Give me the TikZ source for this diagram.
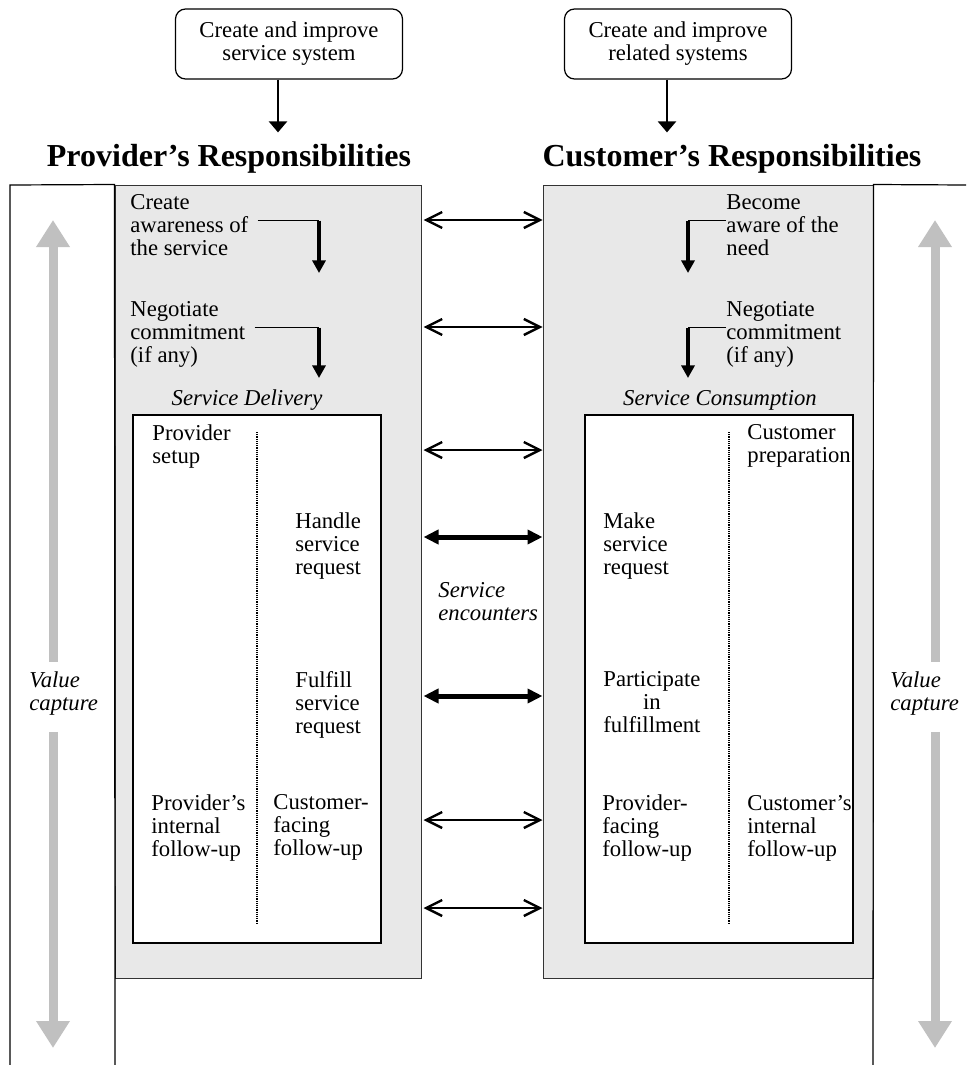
\documentclass[tikz,border=0pt]{standalone}
\usepackage{fontspec}
\setmainfont{Liberation Serif}
\usepackage{tikz}
\usetikzlibrary{arrows.meta,positioning,fit,calc}
\definecolor{boxgray}{HTML}{E8E8E8}
\definecolor{capgray}{HTML}{C0C0C0}
\newcommand{\bodyfont}{\fontsize{11.35}{11.5}\selectfont}
\tikzstyle{sysbox}=[draw, rounded corners=5pt, line width=0.6pt,
  minimum width=113.5pt, minimum height=35pt, align=center, font=\bodyfont]
\tikzstyle{heading}=[font=\fontsize{16}{19}\selectfont\bfseries, anchor=base,
  inner xsep=0pt, inner ysep=5.5pt]
\tikzstyle{respbox}=[draw=black!80, fill=boxgray, line width=0.5pt, inner sep=0pt]
\tikzstyle{phasebox}=[draw, fill=white, line width=0.9pt, inner sep=0pt]
\tikzstyle{descr}=[anchor=north west, align=left, inner sep=0pt, font=\bodyfont]
\tikzstyle{phase}=[anchor=base, inner sep=0pt, font=\bodyfont\itshape]
\tikzstyle{frame}=[draw, line width=0.6pt]
\tikzstyle{divider}=[draw, line width=0.8pt, dash pattern=on 0.6pt off 0.5pt]
\tikzstyle{down}=[draw, line width=1.2pt, -{Triangle[width=9pt,length=5.5pt]}]
\tikzstyle{hline}=[draw, line width=0.6pt]
\tikzstyle{vline}=[draw, line width=1.6pt, -{Triangle[width=6.5pt,length=6.3pt]}]
\tikzstyle{enc}=[draw, line width=1.2pt, shorten <=1pt,
  {Straight Barb[length=8pt,width=8pt]}-{Straight Barb[length=8pt,width=8pt]}]
\tikzstyle{encbold}=[draw, line width=2.5pt, shorten <=1pt,
  {Triangle[length=7.5pt,width=7pt]}-{Triangle[length=7.5pt,width=7pt]}]
\tikzstyle{vcap}=[draw=capgray, line width=4.5pt, -{Triangle[width=16pt,length=13.5pt]}]
\newcommand{\duty}[2]{node (#1)[descr]{#2}}
% bent arrow: from #1 across, then down to the tip #2
\newcommand{\handoff}[2]{%
  \path[hline] (#1) -- (#1 -| #2);
  \path[vline] (#1 -| #2) -- (#2);}
\begin{document}
\begin{tikzpicture}[x=0.5pt,y=-0.5pt]
  \useasboundingbox (0,0) rectangle (966,1065);

  % Draw diagram elements

  \node[sysbox] (sysp) at (289,44) {Create and improve\\service system};
  \node[sysbox] (sysc) at (678,44) {Create and improve\\related systems};
  \node[heading] (provh) at (229,166) {Provider's Responsibilities};
  \node[heading] (custh) at (732,166) {Customer's Responsibilities};

  \node[respbox, fit={(115,185) (421,978)}] (provbox) {};
  \node[respbox, fit={(543,185) (873,978)}] (custbox) {};
  \draw[frame] (10,1065) -- (10,185) -- (provbox.north west) -- (115,1065);
  \draw[frame] (873,1065) -- (custbox.north east) -- (966,185);

  \node[phasebox, fit={(133,415) (381,943)}] (deliv) {};
  \node[phasebox, fit={(585,415) (853,943)}] (consum) {};
  \path[divider] (257,432) -- (257,923);
  \path[divider] (729,432) -- (729,923);
  \node[phase] (delivl) at (247,405) {Service Delivery};
  \node[phase] (consuml) at (720,405) {Service Consumption};

  \path (130,194.5) \duty{aware}{Create\\awareness of\\the service};
  \path (130,301.5) \duty{negp}{Negotiate\\commitment\\(if any)};
  \path (152,424.5) \duty{psetup}{Provider\\setup};
  \path (295,512.5) \duty{handle}{Handle\\service\\request};
  \path (295,671.5) \duty{fulfil}{Fulfill\\service\\request};
  \path (151,794.5) \duty{pint}{Provider's\\internal\\follow-up};
  \path (273,794.5) \duty{cface}{Customer-\\facing\\follow-up};

  \path (726,194.5) \duty{need}{Become\\aware of the\\need};
  \path (726,301.5) \duty{negc}{Negotiate\\commitment\\(if any)};
  \path (747,424.5) \duty{cprep}{Customer\\preparation};
  \path (603,512.5) \duty{mkreq}{Make\\service\\request};
  \path (603,671.5) node (partic)[descr, align=center]{Participate\\in\\fulfillment};
  \path (602,794.5) \duty{pface}{Provider-\\facing\\follow-up};
  \path (747,794.5) \duty{cint}{Customer's\\internal\\follow-up};

  \path (438,582) node (encl)[descr, font=\bodyfont\itshape]{Service\\encounters};
  \path (29,671.5) node (vcl)[descr, font=\bodyfont\itshape]{Value\\capture};
  \path (890,671.5) node (vcr)[descr, font=\bodyfont\itshape]{Value\\capture};

  % Draw arrows between elements

  \path[down] ([xshift=-5.5pt]sysp.south) -- ([xshift=-5.5pt]sysp.south |- provh.north);
  \path[down] ([xshift=-5.5pt]sysc.south) -- ([xshift=-5.5pt]sysc.south |- custh.north);

  \coordinate (aw-from) at ([xshift=4.5pt,yshift=-13pt]aware.north east);
  \coordinate (np-from) at ([xshift=4.5pt,yshift=-13pt]negp.north east);
  \coordinate (nd-from) at ([yshift=-13pt]need.north west);
  \coordinate (nc-from) at ([yshift=-13pt]negc.north west);
  \coordinate (aw-tip) at (319,273);
  \coordinate (np-tip) at (319,378);
  \coordinate (nd-tip) at (688,273);
  \coordinate (nc-tip) at (688,378);
  \handoff{aw-from}{aw-tip}
  \handoff{np-from}{np-tip}
  \handoff{nd-from}{nd-tip}
  \handoff{nc-from}{nc-tip}

  \foreach \y/\s in {220/enc,327/enc,450/enc,537/encbold,696/encbold,820/enc,908/enc}
    \path[\s] (provbox.east |- 0,\y) -- (custbox.west |- 0,\y);

  % Value capture
  \coordinate (vlt) at (53,220);
  \coordinate (vlb) at (53,1048);
  \coordinate (vrt) at (935,220);
  \coordinate (vrb) at (935,1048);
  \path[vcap] ([yshift=5pt]vcl.north -| vlt) -- (vlt);
  \path[vcap] ([yshift=-8pt]vcl.south -| vlb) -- (vlb);
  \path[vcap] ([yshift=5pt]vcr.north -| vrt) -- (vrt);
  \path[vcap] ([yshift=-8pt]vcr.south -| vrb) -- (vrb);

\end{tikzpicture}
\end{document}
